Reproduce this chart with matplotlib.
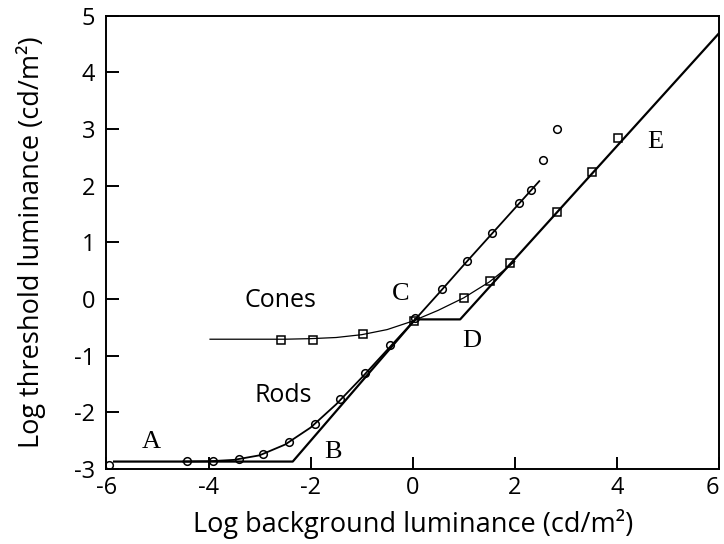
import matplotlib
matplotlib.use("Agg")
import matplotlib.pyplot as plt

plt.rcParams["axes.unicode_minus"] = False

# rod thresholds (circles)
rod_x = [-5.95, -4.43, -3.91, -3.41, -2.93, -2.42, -1.92, -1.43, -0.94, -0.45,
         0.05, 0.57, 1.06, 1.56, 2.08, 2.31, 2.56, 2.82]
rod_y = [-2.93, -2.86, -2.86, -2.83, -2.74, -2.52, -2.20, -1.77, -1.31, -0.81,
         -0.33, 0.17, 0.67, 1.16, 1.69, 1.93, 2.46, 3.00]

# cone thresholds (squares)
cone_x = [-2.58, -1.96, -0.97, 0.03, 1.01, 1.52, 1.91, 2.82, 3.51, 4.02]
cone_y = [-0.72, -0.72, -0.62, -0.38, 0.01, 0.32, 0.64, 1.54, 2.25, 2.85]

# fitted curves
rod_fit_x = [-4.5, -4.0, -3.5, -3.0, -2.5, -2.0, -1.5, -1.0, -0.5, 0.0, 0.5, 1.0, 1.5, 2.0, 2.48]
rod_fit_y = [-2.87, -2.865, -2.84, -2.76, -2.57, -2.27, -1.86, -1.39, -0.90, -0.41,
             0.09, 0.60, 1.10, 1.60, 2.08]
cone_fit_x = [-3.97, -3.0, -2.5, -2.0, -1.5, -1.0, -0.5, 0.0, 0.5, 1.0, 1.5, 2.0]
cone_fit_y = [-0.71, -0.71, -0.71, -0.70, -0.68, -0.63, -0.54, -0.39, -0.20, 0.02, 0.30, 0.66]

# straight-line schematic A-B-C-D-E
rod_sch_x = [-5.85, -2.35, 0.05]
rod_sch_y = [-2.87, -2.87, -0.36]
cone_sch_x = [0.05, 0.93, 6.0]
cone_sch_y = [-0.36, -0.36, 4.69]

labels = {"A": (-5.12, -2.52), "B": (-1.56, -2.70), "C": (-0.24, 0.09),
          "D": (1.16, -0.75), "E": (4.76, 2.77)}

sans = "Open Sans"

fig = plt.figure(figsize=(7.24, 5.44), dpi=100)
ax = fig.add_axes([0.147, 0.138, 0.846, 0.833])

ax.plot(rod_sch_x, rod_sch_y, color="black", lw=1.6)
ax.plot(cone_sch_x, cone_sch_y, color="black", lw=1.6)
ax.plot(rod_fit_x, rod_fit_y, color="black", lw=1.3)
ax.plot(cone_fit_x, cone_fit_y, color="black", lw=0.9)

ax.plot(rod_x, rod_y, "o", ms=5.5, mfc="none", mec="black", mew=1.1)
ax.plot(cone_x, cone_y, "s", ms=6, mfc="none", mec="black", mew=1.1)

for k, (x, y) in labels.items():
    ax.text(x, y, k, family="Liberation Serif", fontsize=19, ha="center", va="center")

ax.text(-2.60, -0.02, "Cones", family=sans, fontsize=18, ha="center", va="center")
ax.text(-2.54, -1.70, "Rods", family=sans, fontsize=18, ha="center", va="center")

ax.set_xlim(-6, 6)
ax.set_ylim(-3, 5)
ax.set_xticks([-6, -4, -2, 0, 2, 4, 6])
ax.set_yticks(range(-3, 6))
ax.tick_params(direction="in", length=9, width=1.4, labelsize=17, top=False, right=False)
ax.tick_params(axis="x", pad=5)
ax.tick_params(axis="y", pad=8)
for lab in ax.get_xticklabels() + ax.get_yticklabels():
    lab.set_family(sans)
ax.get_xticklabels()[-1].set_ha("right")  # keep the "6" inside the figure
for s in ax.spines.values():
    s.set_linewidth(1.4)

ax.set_xlabel("Log background luminance (cd/m²)", family=sans, fontsize=19.5)
ax.set_ylabel("Log threshold luminance (cd/m²)", family=sans, fontsize=19.5)
ax.xaxis.set_label_coords(0.5, -0.088)
ax.yaxis.set_label_coords(-0.098, 0.5)

fig.savefig("out.png", dpi=100)
